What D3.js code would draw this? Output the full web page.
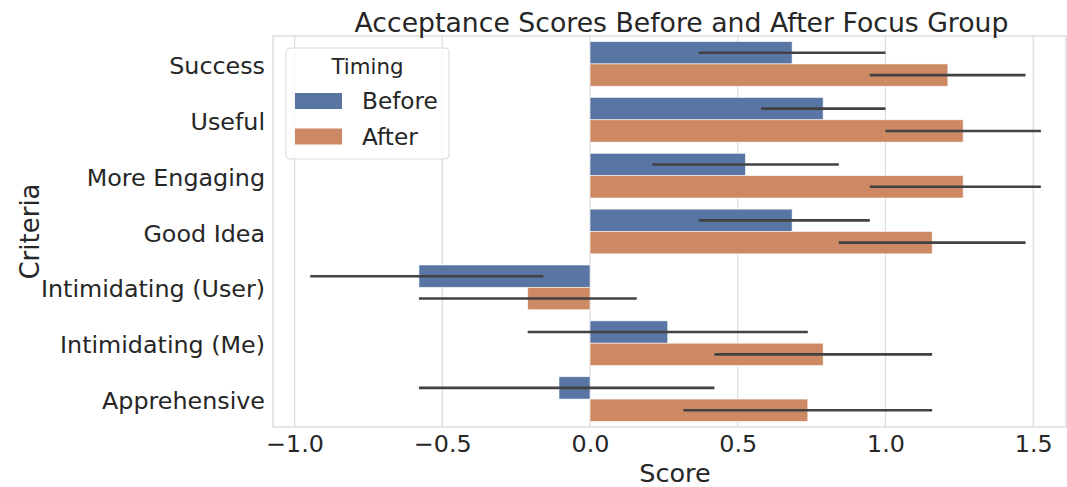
<!DOCTYPE html>
<html>
<head>
<meta charset="utf-8">
<script src="https://cdn.jsdelivr.net/npm/d3@7"></script>
<style>
  html, body { margin: 0; padding: 0; background: #fff; }
  svg { display: block; }
  text { font-family: "DejaVu Sans", sans-serif; fill: #262626; }
</style>
</head>
<body>
<svg id="chart" width="1067" height="487"></svg>
<script>
// Criteria rated by participants, top to bottom
const categories = ["Success", "Useful", "More Engaging", "Good Idea",
                    "Intimidating (User)", "Intimidating (Me)", "Apprehensive"];
const timings = ["Before", "After"];

// Mean scores per criterion
const beforeMean = [0.684, 0.789, 0.526, 0.684, -0.579, 0.263, -0.105];
const afterMean  = [1.211, 1.263, 1.263, 1.158, -0.211, 0.789, 0.737];

// 95% confidence intervals [low, high]
const beforeCI = [[0.368, 1.0], [0.579, 1.0], [0.211, 0.842], [0.368, 0.947],
                  [-0.947, -0.158], [-0.211, 0.737], [-0.579, 0.421]];
const afterCI  = [[0.947, 1.474], [1.0, 1.526], [0.947, 1.526], [0.842, 1.474],
                  [-0.579, 0.158], [0.421, 1.158], [0.316, 1.158]];

const xTicks = [-1.0, -0.5, 0.0, 0.5, 1.0, 1.5];

const colors = { Before: "#5975a4", After: "#cc8963" };

const rows = [];
categories.forEach((c, i) => {
  rows.push({ cat: c, timing: "Before", value: beforeMean[i], ci: beforeCI[i] });
  rows.push({ cat: c, timing: "After", value: afterMean[i], ci: afterCI[i] });
});

const margin = { top: 36, right: 1, bottom: 60, left: 273 };
const W = 1067, H = 487;
const innerW = W - margin.left - margin.right;
const innerH = H - margin.top - margin.bottom;

const svg = d3.select("#chart");
const g = svg.append("g").attr("transform", `translate(${margin.left},${margin.top})`);

const x = d3.scaleLinear().domain([-1.073, 1.611]).range([0, innerW]);
const y = d3.scaleBand().domain(categories).range([0, innerH])
  .paddingInner(0.2).paddingOuter(0.1);
const yHue = d3.scaleBand().domain(timings).range([0, y.bandwidth()]);

// Vertical grid lines
g.append("g").selectAll("line").data(xTicks).join("line")
  .attr("x1", d => x(d)).attr("x2", d => x(d))
  .attr("y1", 0).attr("y2", innerH)
  .attr("stroke", "#dcdcdc").attr("stroke-width", 1.2);

// Frame
g.append("rect").attr("x", 0).attr("y", 0).attr("width", innerW).attr("height", innerH)
  .attr("fill", "none").attr("stroke", "#d4d4d4").attr("stroke-width", 1.2);

// Bars
g.append("g").selectAll("rect").data(rows).join("rect")
  .attr("x", d => x(Math.min(0, d.value)))
  .attr("width", d => Math.abs(x(d.value) - x(0)))
  .attr("y", d => y(d.cat) + yHue(d.timing))
  .attr("height", yHue.bandwidth())
  .attr("fill", d => colors[d.timing])
  .attr("stroke", "#ffffff").attr("stroke-opacity", 0.7).attr("stroke-width", 0.8);

// Error bars
g.append("g").selectAll("line").data(rows).join("line")
  .attr("x1", d => x(d.ci[0])).attr("x2", d => x(d.ci[1]))
  .attr("y1", d => y(d.cat) + yHue(d.timing) + yHue.bandwidth() / 2)
  .attr("y2", d => y(d.cat) + yHue(d.timing) + yHue.bandwidth() / 2)
  .attr("stroke", "#424242").attr("stroke-width", 2.6);

// X axis labels
const xAxis = g.append("g").attr("transform", `translate(0,${innerH})`)
  .call(d3.axisBottom(x).tickValues(xTicks).tickSize(0).tickPadding(8)
    .tickFormat(d => d3.format(".1f")(d).replace("-", "\u2212")));
xAxis.select(".domain").remove();
xAxis.selectAll("text").attr("font-size", 23.8).attr("fill", "#262626")
  .attr("font-family", "DejaVu Sans");

// Y axis labels
const yAxis = g.append("g")
  .call(d3.axisLeft(y).tickSize(0).tickPadding(8));
yAxis.select(".domain").remove();
yAxis.selectAll("text").attr("font-size", 23.8).attr("fill", "#262626")
  .attr("font-family", "DejaVu Sans").attr("dy", "0.42em");

// Axis titles
svg.append("text").attr("x", margin.left + x(0.0) + 85).attr("y", 482)
  .attr("text-anchor", "middle").attr("font-size", 25.5).text("Score");
svg.append("text")
  .attr("transform", `translate(39,${margin.top + innerH / 2}) rotate(-90)`)
  .attr("text-anchor", "middle").attr("font-size", 26).text("Criteria");

// Chart title
svg.append("text").attr("x", margin.left + innerW / 2 + 12).attr("y", 32)
  .attr("text-anchor", "middle").attr("font-size", 26.7)
  .text("Acceptance Scores Before and After Focus Group");

// Legend
const lg = svg.append("g").attr("transform", "translate(286,48)");
lg.append("rect").attr("width", 163).attr("height", 111).attr("rx", 4)
  .attr("fill", "#ffffff").attr("fill-opacity", 0.8)
  .attr("stroke", "#d9d9d9").attr("stroke-width", 1);
lg.append("text").attr("x", 81.5).attr("y", 26).attr("text-anchor", "middle")
  .attr("font-size", 21.3).text("Timing");
const items = lg.selectAll("g.item").data(timings).join("g").attr("class", "item")
  .attr("transform", (d, i) => `translate(9,${45 + i * 35.5})`);
items.append("rect").attr("width", 47).attr("height", 16)
  .attr("fill", d => colors[d]);
items.append("text").attr("x", 67).attr("y", 16).attr("font-size", 23.2).text(d => d);
</script>
</body>
</html>
